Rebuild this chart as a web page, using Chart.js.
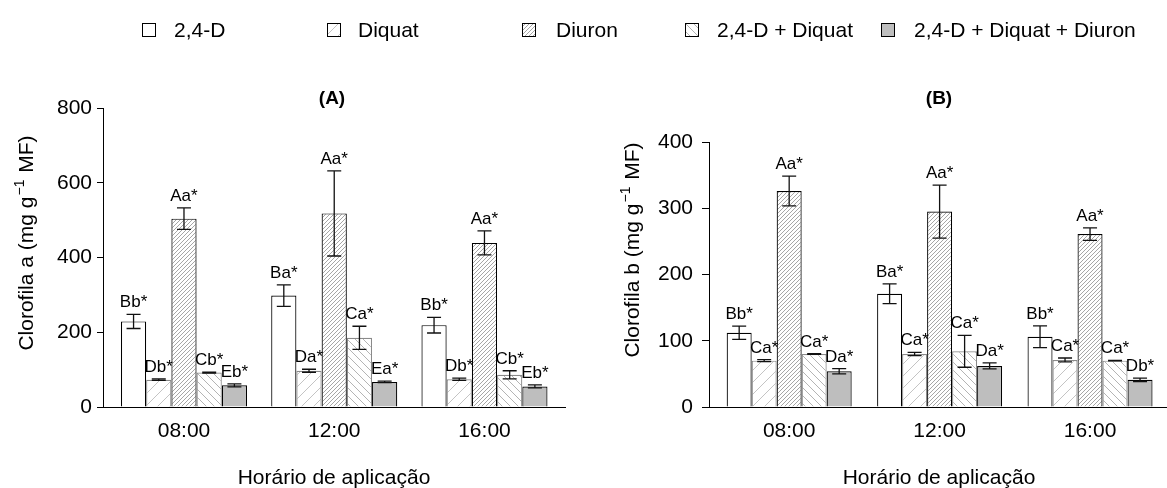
<!DOCTYPE html>
<html>
<head>
<meta charset="utf-8">
<script src="https://cdn.jsdelivr.net/npm/chart.js@4.4.0/dist/chart.umd.min.js"></script>
<style>
html, body { margin: 0; padding: 0; background: #fff; }
#wrap { position: relative; width: 1167px; height: 488px; overflow: hidden; font-family: 'Liberation Sans', Arial, sans-serif; }
#cA { position: absolute; left: 0; top: 0; }
#cB { position: absolute; left: 583px; top: 0; }
.lg { position: absolute; top: 19px; font-size: 21px; line-height: 21px; color: #000; white-space: nowrap; }
.sw { position: absolute; top: 23px; }
</style>
</head>
<body>
<div id="wrap">
  <canvas id="cA" width="583" height="488"></canvas>
  <canvas id="cB" width="584" height="488"></canvas>
  <div id="legend"></div>
</div>
<script>
const hours = ['08:00', '12:00', '16:00'];
const treatments = ['2,4-D', 'Diquat', 'Diuron', '2,4-D + Diquat', '2,4-D + Diquat + Diuron'];

// (A) Clorofila a
const chlA_24D    = [229, 298, 219];
const chlA_diquat = [73, 97, 74];
const chlA_diuron = [504, 518, 439];
const chlA_24Ddiq = [92, 185, 86];
const chlA_mix    = [58, 67, 55];
const errA_24D    = [19, 29, 21];
const errA_diquat = [2, 4, 3];
const errA_diuron = [29, 114, 32];
const errA_24Ddiq = [1.5, 31, 11];
const errA_mix    = [4, 2, 4];
const lblA_24D    = ['Bb*', 'Ba*', 'Bb*'];
const lblA_diquat = ['Db*', 'Da*', 'Db*'];
const lblA_diuron = ['Aa*', 'Aa*', 'Aa*'];
const lblA_24Ddiq = ['Cb*', 'Ca*', 'Cb*'];
const lblA_mix    = ['Eb*', 'Ea*', 'Eb*'];

// (B) Clorofila b
const chlB_24D    = [112, 171, 106];
const chlB_diquat = [70, 80, 71];
const chlB_diuron = [326, 295, 261];
const chlB_24Ddiq = [80, 84, 70];
const chlB_mix    = [54, 62, 41];
const errB_24D    = [10, 15, 16.5];
const errB_diquat = [1.5, 2.5, 3];
const errB_diuron = [22.5, 40, 9.5];
const errB_24Ddiq = [0.5, 24, 0.5];
const errB_mix    = [4, 4.5, 2.5];
const lblB_24D    = ['Bb*', 'Ba*', 'Bb*'];
const lblB_diquat = ['Ca*', 'Ca*', 'Ca*'];
const lblB_diuron = ['Aa*', 'Aa*', 'Aa*'];
const lblB_24Ddiq = ['Ca*', 'Ca*', 'Ca*'];
const lblB_mix    = ['Da*', 'Da*', 'Db*'];

const yTicksA = [0, 200, 400, 600, 800];
const yTicksB = [0, 100, 200, 300, 400];

const FONT = "'Liberation Sans', Arial, Helvetica, sans-serif";
Chart.defaults.font.family = FONT;
Chart.defaults.color = '#000';

// hatch tiles
function tile(size, dir, color, bg) {
  const c = document.createElement('canvas');
  c.width = c.height = size;
  const g = c.getContext('2d');
  g.fillStyle = bg;
  g.fillRect(0, 0, size, size);
  if (dir) {
    g.strokeStyle = color;
    g.lineWidth = 1;
    g.beginPath();
    if (dir > 0) {
      g.moveTo(-1, size + 1); g.lineTo(size + 1, -1);
      g.moveTo(-1, 1); g.lineTo(1, -1);
      g.moveTo(size - 1, size + 1); g.lineTo(size + 1, size - 1);
    } else {
      g.moveTo(-1, -1); g.lineTo(size + 1, size + 1);
      g.moveTo(size - 1, -1); g.lineTo(size + 1, 1);
      g.moveTo(-1, size - 1); g.lineTo(1, size + 1);
    }
    g.stroke();
  }
  return c;
}
const tiles = [
  tile(8, 0, '#000', '#ffffff'),
  tile(12, 1, '#c4c4c4', '#ffffff'),
  tile(4, 1, '#a6a6a6', '#ffffff'),
  tile(8, -1, '#b4b4b4', '#ffffff'),
  tile(8, 0, '#000', '#bebebe')
];
const borders = ['#000', '#8a8a8a', '#000', '#8a8a8a', '#000'];

const marks = {
  id: 'marks',
  afterDatasetsDraw(chart, args, o) {
    const ctx = chart.ctx, ys = chart.scales.y;
    ctx.save();
    ctx.font = '17px ' + FONT;
    ctx.fillStyle = '#000';
    ctx.textAlign = 'center';
    ctx.textBaseline = 'alphabetic';
    chart.data.datasets.forEach((ds, i) => {
      chart.getDatasetMeta(i).data.forEach((bar, j) => {
        const v = ds.data[j].y, e = ds.errors[j];
        const top = ys.getPixelForValue(v + e), bot = ys.getPixelForValue(v - e);
        ctx.strokeStyle = '#111';
        ctx.lineWidth = 1.3;
        ctx.beginPath();
        ctx.moveTo(bar.x, top); ctx.lineTo(bar.x, bot);
        ctx.moveTo(bar.x - 7, top); ctx.lineTo(bar.x + 7, top);
        ctx.moveTo(bar.x - 7, bot); ctx.lineTo(bar.x + 7, bot);
        ctx.stroke();
        ctx.fillText(ds.letters[j], bar.x, top - 7);
      });
    });
    ctx.restore();
  },
  afterDraw(chart, args, o) {
    const ctx = chart.ctx;
    ctx.save();
    ctx.fillStyle = '#000';
    // panel title
    ctx.font = 'bold 19px ' + FONT;
    ctx.textAlign = 'center';
    ctx.textBaseline = 'alphabetic';
    ctx.fillText(o.panel, o.panelX, 104);
    // x title
    ctx.font = '21px ' + FONT;
    ctx.fillText('Horário de aplicação', o.xTitleX, 484);
    // y title with superscript
    ctx.translate(o.yTitleX + 7, o.yTitleY);
    ctx.rotate(-Math.PI / 2);
    ctx.textAlign = 'left';
    const p1 = o.yTitle + ' (mg g', sup = '\u22121', p2 = ' MF)';
    ctx.font = '21px ' + FONT;
    const w1 = ctx.measureText(p1).width, w3 = ctx.measureText(p2).width;
    ctx.font = '14px ' + FONT;
    const w2 = ctx.measureText(sup).width + 2;
    let x = -(w1 + w2 + w3) / 2;
    ctx.font = '21px ' + FONT;
    ctx.fillText(p1, x, 0);
    x += w1 + 1;
    ctx.font = '14px ' + FONT;
    ctx.fillText(sup, x, -9);
    x += w2 - 1;
    ctx.font = '21px ' + FONT;
    ctx.fillText(p2, x, 0);
    ctx.restore();
  }
};

function makePanel(id, p) {
  const canvas = document.getElementById(id);
  const ctx = canvas.getContext('2d');
  const datasets = treatments.map((t, i) => ({
    label: t,
    data: hours.map((h, j) => ({ x: j, y: p.vals[i][j] })),
    errors: p.errs[i],
    letters: p.lbls[i],
    backgroundColor: ctx.createPattern(tiles[i], 'repeat'),
    borderColor: borders[i],
    borderWidth: 1.2,
    borderSkipped: 'bottom',
    categoryPercentage: p.catPct,
    barPercentage: 1
  }));
  return new Chart(canvas, {
    type: 'bar',
    data: { datasets },
    options: {
      responsive: false,
      animation: false,
      devicePixelRatio: 1,
      layout: { padding: { left: 0, top: p.top, right: p.right, bottom: 0 } },
      plugins: {
        legend: { display: false },
        tooltip: { enabled: false },
        marks: p.marks
      },
      scales: {
        x: {
          type: 'linear',
          min: p.xMin,
          max: p.xMax,
          offset: false,
          afterBuildTicks: s => { s.ticks = hours.map((h, j) => ({ value: j })); },
          afterFit: s => { s.height = 81; },
          ticks: { autoSkip: false, maxRotation: 0, padding: 12, font: { size: 21 }, callback: v => hours[v] },
          grid: { display: false, drawTicks: false },
          border: { display: true, color: '#000', width: 1 }
        },
        y: {
          min: 0,
          max: p.yTicks[p.yTicks.length - 1],
          afterBuildTicks: s => { s.ticks = p.yTicks.map(v => ({ value: v })); },
          afterFit: s => { s.width = p.yWidth; },
          ticks: { padding: p.tickPad, font: { size: 21 } },
          grid: { drawOnChartArea: false, color: '#000', tickLength: p.tickLen },
          border: { display: true, color: '#000', width: 1 }
        }
      }
    },
    plugins: [marks]
  });
}

makePanel('cA', {
  vals: [chlA_24D, chlA_diquat, chlA_diuron, chlA_24Ddiq, chlA_mix],
  errs: [errA_24D, errA_diquat, errA_diuron, errA_24Ddiq, errA_mix],
  lbls: [lblA_24D, lblA_diquat, lblA_diuron, lblA_24Ddiq, lblA_mix],
  yTicks: yTicksA,
  xMin: -0.539, xMax: 2.536, catPct: 0.839,
  top: 108, right: 18, yWidth: 103, tickLen: 6, tickPad: 5,
  marks: { panel: '(A)', panelX: 332, xTitleX: 334, yTitle: 'Clorofila a', yTitleX: 26, yTitleY: 243 }
});

makePanel('cB', {
  vals: [chlB_24D, chlB_diquat, chlB_diuron, chlB_24Ddiq, chlB_mix],
  errs: [errB_24D, errB_diquat, errB_diuron, errB_24Ddiq, errB_mix],
  lbls: [lblB_24D, lblB_diquat, lblB_diuron, lblB_24Ddiq, lblB_mix],
  yTicks: yTicksB,
  xMin: -0.533, xMax: 2.505, catPct: 0.831,
  top: 142, right: 1, yWidth: 126, tickLen: 7, tickPad: 9,
  marks: { panel: '(B)', panelX: 356, xTitleX: 356, yTitle: 'Clorofila b', yTitleX: 49, yTitleY: 250 }
});

// legend
const legendPos = [[142, 174], [327, 358], [522, 556], [685, 717], [881, 914]];
const legend = document.getElementById('legend');
treatments.forEach((t, i) => {
  const sw = document.createElement('canvas');
  sw.width = 14; sw.height = 14;
  sw.className = 'sw';
  sw.style.left = legendPos[i][0] + 'px';
  const g = sw.getContext('2d');
  g.fillStyle = g.createPattern(tiles[i], 'repeat');
  g.fillRect(0, 0, 14, 14);
  g.strokeStyle = '#000';
  g.lineWidth = 1;
  g.strokeRect(0.5, 0.5, 13, 13);
  legend.appendChild(sw);
  const span = document.createElement('span');
  span.className = 'lg';
  span.style.left = legendPos[i][1] + 'px';
  span.textContent = t;
  legend.appendChild(span);
});
</script>
</body>
</html>
